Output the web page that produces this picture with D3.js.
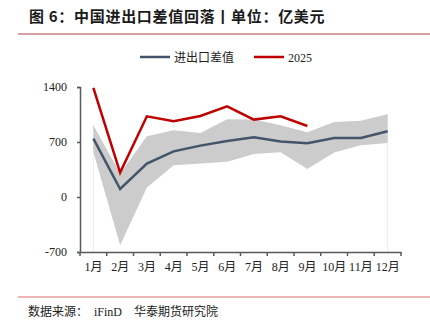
<!DOCTYPE html>
<html>
<head>
<meta charset="utf-8">
<script src="https://cdn.jsdelivr.net/npm/d3@7"></script>
<style>
  body { margin: 0; background: #fff; }
  svg { display: block; }
</style>
</head>
<body>
<div id="chart"></div>
<script>
// ===== data ==========================================================
const months = ['1月','2月','3月','4月','5月','6月','7月','8月','9月','10月','11月','12月'];
const avgDiff = [743, 102, 425, 581, 654, 713, 760, 705, 683, 751, 751, 836];   // 进出口差值
const y2025   = [1390, 310, 1027, 963, 1031, 1154, 985, 1027, 904];            // 2025
const bandHigh = [912, 300, 772, 849, 815, 989, 985, 912, 823, 955, 972, 1052];
const bandLow  = [573, -615, 120, 403, 425, 450, 547, 569, 356, 565, 658, 687];
const yTicks = [-700, 0, 700, 1400];

// ===== layout ========================================================
const svgWidth = 430;
const svgHeight = 327;
const plot = { left: 80, right: 401, top: 87, bottom: 252 };
const serif = "'Liberation Serif', 'Times New Roman', 'Noto Sans CJK SC', serif";
const cjk = "'Noto Sans CJK SC', sans-serif";

const svg = d3.select('#chart').append('svg')
    .attr('width', svgWidth)
    .attr('height', svgHeight);

// title + rules
svg.append('text')
    .attr('x', 29).attr('y', 22)
    .style('font-family', cjk)
    .style('font-weight', 'bold')
    .style('font-size', '15px')
    .style('letter-spacing', '0.7px')
    .attr('fill', '#1a1a1a')
    .text('图 6：中国进出口差值回落丨单位：亿美元');

svg.append('line')
    .attr('x1', 18).attr('x2', 430).attr('y1', 34).attr('y2', 34)
    .attr('stroke', '#c98080').attr('stroke-width', 1.5);

svg.append('line')
    .attr('x1', 18).attr('x2', 430).attr('y1', 297).attr('y2', 297)
    .attr('stroke', '#d96a6a').attr('stroke-width', 1);

svg.append('text')
    .attr('x', 28).attr('y', 316)
    .style('font-family', serif)
    .style('font-size', '12px')
    .style('white-space', 'pre')
    .attr('fill', '#222')
    .text('数据来源：  iFinD    华泰期货研究院');

// legend
const legend = [
    { name: '进出口差值', color: '#44546a', x: 140 },
    { name: '2025', color: '#c00000', x: 254 }
];
legend.forEach(d => {
    svg.append('line')
        .attr('x1', d.x).attr('x2', d.x + 30)
        .attr('y1', 57).attr('y2', 57)
        .attr('stroke', d.color).attr('stroke-width', 2.5);
    svg.append('text')
        .attr('x', d.x + 34).attr('y', 61.5)
        .style('font-family', serif)
        .style('font-size', '12px')
        .attr('fill', '#222')
        .text(d.name);
});

// scales
const x = d3.scaleBand().domain(months).range([plot.left, plot.right]);
const cx = m => x(m) + x.bandwidth() / 2;
const y = d3.scaleLinear().domain([-700, 1400]).range([plot.bottom, plot.top]);

// band edges (faint)
[0, months.length - 1].forEach(i => {
    svg.append('line')
        .attr('x1', cx(months[i])).attr('x2', cx(months[i]))
        .attr('y1', y(bandHigh[i])).attr('y2', plot.bottom)
        .attr('stroke', '#ececec').attr('stroke-width', 1);
});

// gray range
const area = d3.area()
    .x((d, i) => cx(months[i]))
    .y0((d, i) => y(bandLow[i]))
    .y1(d => y(d));
svg.append('path')
    .datum(bandHigh)
    .attr('d', area)
    .attr('fill', '#cccccc');

// lines
const line = d3.line().x((d, i) => cx(months[i])).y(d => y(d));
svg.append('path')
    .datum(avgDiff)
    .attr('d', line)
    .attr('fill', 'none')
    .attr('stroke', '#44546a')
    .attr('stroke-width', 2.5);
svg.append('path')
    .datum(y2025)
    .attr('d', line)
    .attr('fill', 'none')
    .attr('stroke', '#c00000')
    .attr('stroke-width', 2.5);

// axes
const gy = svg.append('g')
    .attr('transform', `translate(${plot.left},0)`)
    .call(d3.axisLeft(y).tickValues(yTicks).tickSize(3).tickPadding(10)
        .tickFormat(d => String(d)));
gy.select('.domain').attr('stroke', '#595959').attr('stroke-width', 1.5);
gy.selectAll('.tick line').attr('stroke', '#595959').attr('stroke-width', 1.5);
gy.selectAll('text')
    .style('font-family', serif)
    .style('font-size', '12px')
    .attr('fill', '#222');

const gx = svg.append('g')
    .attr('transform', `translate(0,${plot.bottom})`)
    .call(d3.axisBottom(x).tickSize(0).tickPadding(10));
gx.select('.domain').attr('stroke', '#595959').attr('stroke-width', 1.5);
gx.selectAll('text')
    .style('font-family', serif)
    .style('font-size', '12px')
    .attr('fill', '#222');
// ticks between months
const bounds = months.map(m => x(m)).concat([plot.right]);
gx.selectAll('.bound').data(bounds).enter().append('line')
    .attr('x1', d => d).attr('x2', d => d)
    .attr('y1', 0).attr('y2', 4)
    .attr('stroke', '#595959').attr('stroke-width', 1.5);
</script>
</body>
</html>
